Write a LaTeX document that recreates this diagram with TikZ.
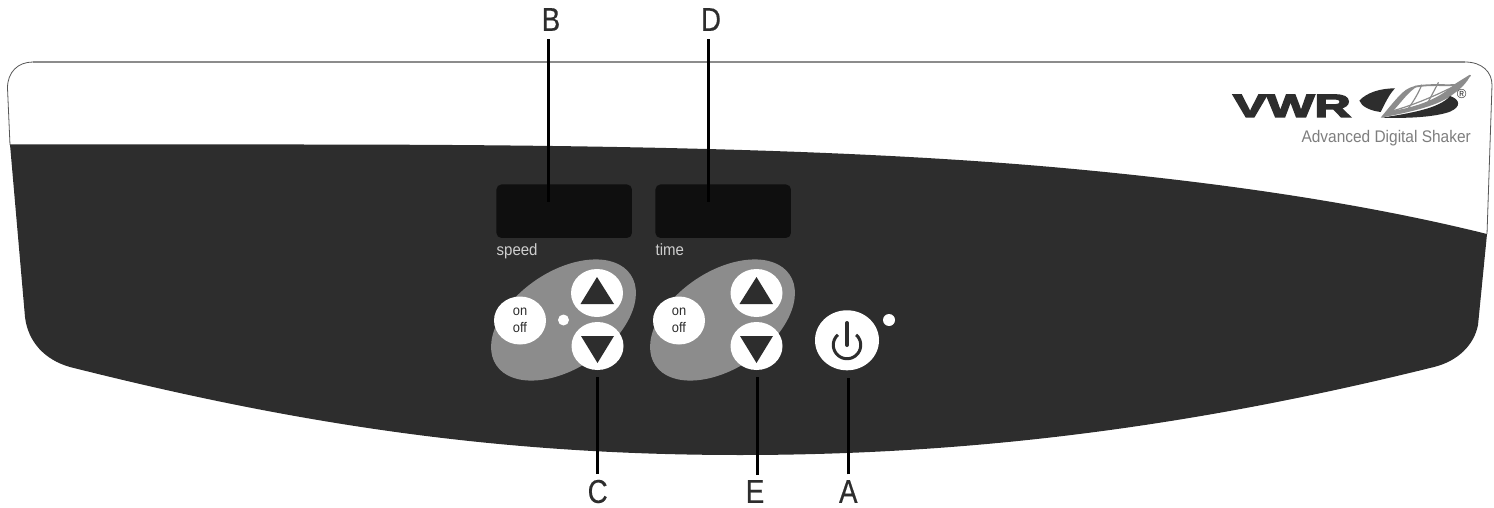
\documentclass[tikz,border=0pt]{standalone}
\usepackage{fontspec}
\setmainfont{Liberation Sans}
\newfontfamily\narrowfont[FakeStretch=0.84,FakeBold=0.4]{Liberation Sans}
\newfontfamily\slimfont[FakeStretch=0.92]{Liberation Sans}
\newfontfamily\logofont[FakeStretch=1.6,FakeBold=6]{Liberation Sans Bold}
\usetikzlibrary{shapes.geometric}
\definecolor{panel}{HTML}{2D2D2D}
\definecolor{screen}{HTML}{0F0F0F}
\definecolor{oval}{HTML}{8C8C8C}
\definecolor{speedtxt}{HTML}{CFCFCF}
\tikzset{
  letter/.style={inner sep=0pt,font=\narrowfont\fontsize{33}{33}\selectfont,text=panel},
  leader/.style={draw=black,line width=2.5pt},
  display/.style={fill=screen,rounded corners=5pt,minimum width=135.5pt,minimum height=53.5pt,inner sep=0pt},
  caption/.style={inner sep=0pt,anchor=base west,text=speedtxt,font=\slimfont\fontsize{16.3}{16.3}\selectfont},
  blob/.style={ellipse,fill=oval,minimum width=162pt,minimum height=97pt,inner sep=0pt,rotate=34},
  onbtn/.style={ellipse,fill=white,minimum width=52pt,minimum height=48pt,inner sep=0pt,align=center,text=panel,font=\slimfont\fontsize{14}{16.5}\selectfont},
  arrowbtn/.style={ellipse,fill=white,minimum width=52pt,minimum height=48pt,inner sep=0pt},
  dotled/.style={circle,fill=white,inner sep=0pt},
  vein/.style={draw=oval,line cap=round},
}
\begin{document}
\begin{tikzpicture}[x=1pt,y=-1pt]
\useasboundingbox (0,0) rectangle (1494,508);
% panel
\fill[white] (7.5,88) .. controls (7.5,72) and (18,62) .. (33,62) -- (1465,62) .. controls (1482,62) and (1492,72) .. (1492,85) -- (1487,234) -- (10,145) -- cycle;
\draw[oval,line width=2.2pt] (33,62) -- (1465,62);
\draw[panel!80!white,line width=0.8pt] (10,145) -- (7.5,88) .. controls (7.5,72) and (18,62) .. (33,62);
\draw[panel!80!white,line width=0.8pt] (1465,62) .. controls (1482,62) and (1492,72) .. (1492,85) -- (1487,234);
\fill[panel] (10,144.5) -- (300,144.5) .. controls (650,144.5) and (880,151.5) .. (1063,168)
  .. controls (1200,180.5) and (1350,200) .. (1487,234)
  -- (1478,325) .. controls (1474,345) and (1458,361) .. (1434,367)
  .. controls (1200,425) and (980,455) .. (740,455)
  .. controls (500,455) and (300,425) .. (70,367)
  .. controls (45,360) and (28,342) .. (25,317) -- cycle;
% logo
\node[inner sep=0pt,anchor=base west,text=panel,font=\logofont\fontsize{31.5}{31.5}\selectfont] (vwr) at (1233,116.8) {VWR};
\begin{scope}[shift={(1350,70)},scale=0.3333]
\fill[oval] (92,143) .. controls (115,115) and (135,90) .. (155,70) .. controls (170,55) and (190,47) .. (205,47) .. controls (175,65) and (155,95) .. (130,122) .. controls (190,113) and (250,92) .. (290,62) .. controls (310,45) and (340,28) .. (362,15) .. controls (350,40) and (330,58) .. (310,72) .. controls (270,105) and (190,125) .. (92,143) -- cycle;
\fill[panel] (28,92) .. controls (50,68) and (90,55) .. (135,55) .. controls (118,72) and (105,100) .. (92,126) .. controls (60,122) and (35,110) .. (28,92) -- cycle;
\fill[panel] (300,78) .. controls (330,88) and (335,110) .. (300,125) .. controls (260,140) and (180,146) .. (95,143) .. controls (180,130) and (270,115) .. (300,78) -- cycle;
\draw[vein,line width=1.8pt] (195,50) .. controls (240,42) and (280,47) .. (315,45) -- (360,17);
\draw[vein,line width=1.2pt] (130,122) .. controls (190,105) and (250,80) .. (310,50);
\draw[vein,line width=1.2pt] (265,38) -- (235,95) (215,45) .. controls (205,70) and (190,95) .. (175,115);
\end{scope}
\node[inner sep=0pt,text=panel,font=\fontsize{13}{13}\selectfont] (reg) at (1461.7,94) {®};
\node[inner sep=0pt,anchor=base east,text=oval!90!black,font=\slimfont\fontsize{16.8}{16.8}\selectfont] (model) at (1471,142.5) {Advanced Digital Shaker};
% displays
\node[display] (dispB) at (564.2,211.2) {};
\node[display] (dispD) at (723.2,211.2) {};
\node[caption] (speed) at (496.5,255.5) {speed};
\node[caption] (time) at (655.5,255.5) {time};
% left group
\node[blob] (blobL) at (563.5,320) {};
\node[onbtn] (onL) at (520,320.5) {on\\off};
\node[arrowbtn] (upL) at (597,293) {};
\node[arrowbtn] (downL) at (597.5,346) {};
\node[dotled,minimum size=11pt] (ledL) at (563.5,320) {};
% right group
\node[blob] (blobR) at (722.5,320) {};
\node[onbtn] (onR) at (679,320.5) {on\\off};
\node[arrowbtn] (upR) at (756.5,293) {};
\node[arrowbtn] (downR) at (756.5,346) {};
% triangles
\fill[panel] (597,277) -- (614,304) -- (580.5,304) -- cycle;
\fill[panel] (597.5,363) -- (614,336) -- (581,336) -- cycle;
\fill[panel] (756.5,277) -- (773,304) -- (739.5,304) -- cycle;
\fill[panel] (756.5,363) -- (773,336) -- (740,336) -- cycle;
% power
\node[ellipse,fill=white,minimum width=64pt,minimum height=60pt,inner sep=0pt] (power) at (847,340.3) {};
\node[dotled,minimum size=12pt] (ledP) at (889,320) {};
\draw[panel,line width=3pt] plot[domain=-48:228,samples=50,smooth] ({847+13.7*cos(\x)},{345+13.7*sin(\x)});
\draw[panel,line width=4pt,line cap=round] (847,323) -- (847,345);
% labels
\node[letter] (B) at (551,19.5) {B};
\node[letter] (D) at (711,19.5) {D};
\node[letter] (C) at (597.7,491.5) {C};
\node[letter] (E) at (755,491.5) {E};
\node[letter] (A) at (848.3,491.5) {A};
\coordinate (bEnd) at (548.3,202);
\coordinate (dEnd) at (708.3,202);
\coordinate (eStart) at (757.7,475);
\draw[leader] ([xshift=-2.7pt,yshift=-8pt]B.south) -- (bEnd);
\draw[leader] ([xshift=-2.7pt,yshift=-8pt]D.south) -- (dEnd);
\draw[leader,shorten >=7pt] ([yshift=5.5pt]C.north) -- (C.north |- downL.south);
\draw[leader,shorten >=7pt] (eStart) -- (eStart |- downR.south);
\draw[leader,shorten >=7pt] ([yshift=5.5pt]A.north) -- (A.north |- power.south);
\end{tikzpicture}
\end{document}
